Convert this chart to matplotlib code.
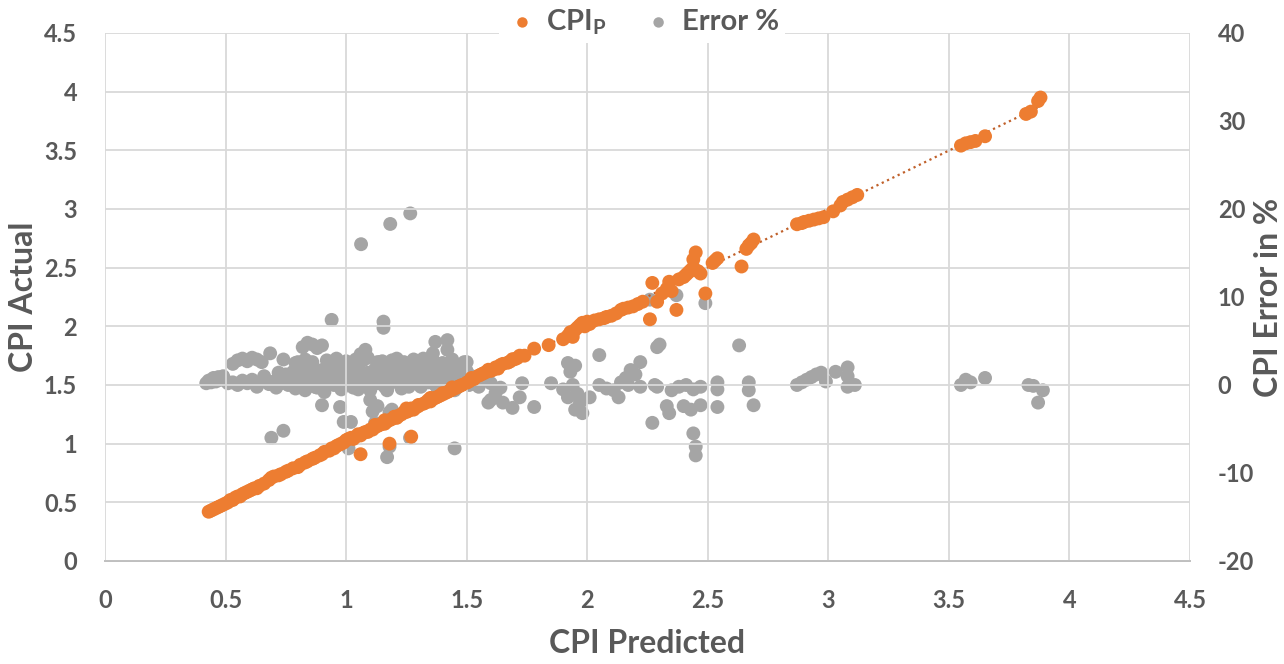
import matplotlib
matplotlib.use("Agg")
import matplotlib.pyplot as plt
import numpy as np

plt.rcParams['font.family'] = ['Lato', 'DejaVu Sans']
plt.rcParams['mathtext.fontset'] = 'custom'
plt.rcParams['mathtext.rm'] = 'Lato'
plt.rcParams['mathtext.bf'] = 'Lato:bold'

# CPI predicted vs actual (orange series)
cpi_pred = [
    0.43, 0.44, 0.45, 0.46, 0.47, 0.48, 0.49, 0.50, 0.51, 0.52, 0.53, 0.54, 0.55, 0.56,
    0.57, 0.58, 0.59, 0.60, 0.61, 0.62, 0.63, 0.64, 0.66, 0.68, 0.69, 0.70, 0.72, 0.73,
    0.75, 0.76, 0.78, 0.80, 0.81, 0.83, 0.84, 0.86, 0.87, 0.89, 0.90, 0.91, 0.93, 0.94,
    0.95, 0.96, 0.97, 0.98, 0.99, 1.00, 1.01, 1.02, 1.03, 1.04, 1.05, 1.06, 1.06, 1.07,
    1.08, 1.09, 1.10, 1.11, 1.12, 1.13, 1.14, 1.15, 1.16, 1.17, 1.18, 1.18, 1.19, 1.20,
    1.21, 1.22, 1.23, 1.24, 1.25, 1.26, 1.27, 1.27, 1.28, 1.29, 1.30, 1.32, 1.33, 1.34,
    1.35, 1.36, 1.37, 1.38, 1.39, 1.40, 1.41, 1.42, 1.43, 1.44, 1.45, 1.46, 1.47, 1.48,
    1.50, 1.51, 1.53, 1.55, 1.56, 1.57, 1.58, 1.60, 1.61, 1.62, 1.63, 1.64, 1.65, 1.67,
    1.68, 1.69, 1.70, 1.71, 1.72, 1.74, 1.78, 1.84, 1.90, 1.92, 1.93, 1.94, 1.95, 1.96,
    1.97, 1.98, 1.99, 2.00, 2.01, 2.03, 2.05, 2.07, 2.08, 2.10, 2.12, 2.14, 2.15, 2.17,
    2.19, 2.21, 2.23, 2.26, 2.27, 2.29, 2.31, 2.33, 2.34, 2.35, 2.37, 2.38, 2.40, 2.41,
    2.42, 2.43, 2.44, 2.44, 2.45, 2.46, 2.47, 2.49, 2.52, 2.53, 2.54, 2.64, 2.66, 2.67,
    2.68, 2.69, 2.87, 2.89, 2.90, 2.92, 2.94, 2.96, 2.98, 3.02, 3.05, 3.06, 3.08, 3.10,
    3.12, 3.55, 3.57, 3.59, 3.61, 3.65, 3.82, 3.84, 3.87, 3.88,
    1.12, 1.16, 1.21, 1.25, 1.30, 1.35, 1.40, 1.44, 1.52, 1.59,
]
cpi_actual = [
    0.42, 0.43, 0.44, 0.45, 0.46, 0.47, 0.48, 0.49, 0.50, 0.52, 0.52, 0.54, 0.55, 0.55,
    0.57, 0.58, 0.59, 0.60, 0.61, 0.62, 0.62, 0.64, 0.66, 0.69, 0.71, 0.72, 0.73, 0.74,
    0.76, 0.77, 0.79, 0.80, 0.82, 0.84, 0.85, 0.87, 0.88, 0.90, 0.91, 0.93, 0.94, 0.96,
    0.96, 0.98, 0.99, 1.00, 1.01, 1.03, 1.04, 1.05, 1.04, 1.06, 1.08, 0.91, 1.07, 1.09,
    1.10, 1.10, 1.12, 1.12, 1.14, 1.15, 1.16, 1.17, 1.17, 1.19, 1.20, 1.00, 1.21, 1.23,
    1.22, 1.24, 1.25, 1.27, 1.27, 1.28, 1.30, 1.06, 1.29, 1.31, 1.32, 1.34, 1.35, 1.37,
    1.36, 1.38, 1.39, 1.40, 1.41, 1.42, 1.43, 1.44, 1.45, 1.46, 1.47, 1.48, 1.49, 1.50,
    1.52, 1.53, 1.55, 1.58, 1.59, 1.60, 1.61, 1.62, 1.63, 1.65, 1.64, 1.67, 1.68, 1.69,
    1.70, 1.72, 1.72, 1.73, 1.75, 1.75, 1.81, 1.84, 1.89, 1.92, 1.95, 1.91, 1.97, 1.99,
    2.01, 2.03, 2.00, 2.04, 2.02, 2.05, 2.06, 2.07, 2.08, 2.09, 2.11, 2.14, 2.15, 2.16,
    2.17, 2.19, 2.21, 2.06, 2.37, 2.21, 2.28, 2.32, 2.38, 2.30, 2.14, 2.40, 2.42, 2.44,
    2.46, 2.48, 2.50, 2.57, 2.63, 2.47, 2.45, 2.28, 2.54, 2.56, 2.58, 2.51, 2.66, 2.69,
    2.71, 2.74, 2.87, 2.88, 2.89, 2.90, 2.91, 2.92, 2.93, 2.98, 3.03, 3.06, 3.08, 3.10,
    3.12, 3.54, 3.56, 3.57, 3.58, 3.62, 3.81, 3.83, 3.92, 3.95,
    1.16, 1.20, 1.23, 1.30, 1.33, 1.39, 1.43, 1.48, 1.56, 1.63,
]

# CPI error in % (grey series, right axis)
err_x = [
    0.42, 0.43, 0.44, 0.45, 0.46, 0.47, 0.48, 0.49, 0.50, 0.51,
    0.53, 0.55, 0.57, 0.59, 0.61, 0.63, 0.65,
    0.53, 0.55, 0.57, 0.59, 0.61, 0.63, 0.65, 0.66,
    0.685, 0.69, 0.74,
    0.68, 0.70, 0.71, 0.72, 0.73, 0.75, 0.76, 0.77, 0.78, 0.79, 0.80, 0.81, 0.82, 0.83,
    0.84, 0.85, 0.86, 0.87, 0.88, 0.89, 0.90, 0.91, 0.92, 0.93, 0.94, 0.95, 0.96, 0.97,
    0.98, 0.99, 1.00, 1.01, 1.02, 1.03, 1.04, 1.05, 1.06, 1.07, 1.08, 1.09, 1.10, 1.11,
    1.12, 1.13, 1.14, 1.15, 1.16, 1.17, 1.18, 1.19, 1.20, 1.21, 1.22, 1.23, 1.24, 1.25,
    1.26, 1.27, 1.28, 1.29, 1.30, 1.31, 1.32, 1.33, 1.34, 1.35, 1.36, 1.37, 1.38, 1.39,
    1.40, 1.41, 1.42, 1.43, 1.44, 1.45, 1.46, 1.47, 1.48, 1.50, 1.51, 1.53, 1.55,
    0.72, 0.78, 0.85, 0.88, 0.93, 0.97, 1.02, 1.05, 1.10, 1.14, 1.17, 1.22, 1.26, 1.30,
    1.33, 1.38, 1.42, 1.47, 1.52,
    0.82, 0.84, 0.86, 0.88, 0.90, 0.80, 0.83, 1.06, 1.08, 1.13, 1.17, 1.19,
    0.90, 0.975, 0.99, 1.02, 1.01, 1.10, 1.11, 1.12, 1.13, 1.18, 1.19, 1.17, 1.18, 1.265,
    1.45, 1.59,
    1.062, 1.183, 1.266, 0.94, 1.155, 1.155, 1.37, 1.42, 1.42, 1.36, 1.50,
    1.42, 1.45, 1.48, 1.52, 1.55, 1.60, 1.62, 1.64, 1.60, 1.65, 1.69, 1.73, 1.72, 1.78,
    1.85, 1.92, 1.93, 1.95, 1.96, 1.94, 1.97, 1.98, 1.95, 1.90, 1.92, 2.01, 2.05, 2.05,
    2.08, 2.11, 2.13, 2.14, 2.16, 2.17, 2.18, 2.20, 2.22, 2.22, 2.26, 2.27, 2.28, 2.29,
    2.30, 2.29, 2.33, 2.34, 2.35, 2.37, 2.38, 2.40, 2.41, 2.43, 2.44, 2.44, 2.45, 2.45,
    2.47, 2.47, 2.49, 2.54, 2.54, 2.54, 2.63, 2.67, 2.67, 2.69,
    2.87, 2.89, 2.91, 2.93, 2.95, 2.97, 2.99, 3.03, 3.08, 3.08, 3.08, 3.11,
    3.55, 3.57, 3.59, 3.65, 3.83, 3.85, 3.89, 3.87,
    0.74, 0.79, 0.92, 0.96, 1.00, 1.04, 1.09, 1.15, 1.21, 1.24, 1.28, 1.32, 1.36, 1.40,
    1.44, 1.49,
]
err_pct = [
    0.2, 0.5, 0.3, 0.8, 0.4, 0.9, 0.6, 1.0, 0.5, 0.2,
    2.4, 2.8, 3.0, 2.7, 3.1, 2.9, 2.6,
    0.3, 0.0, 0.5, 0.2, 0.6, -0.2, 0.4, 1.0,
    3.6, -6.0, -5.2,
    0.1, 0.4, -0.3, 0.8, 0.2, 1.2, 0.0, 0.6, 1.5, -0.4, 0.9, 2.0, 0.3, -0.6,
    1.4, 0.5, 2.6, -0.2, 1.0, 0.2, 1.7, -0.8, 0.6, 1.2, 2.2, 0.0, 1.5, 0.7,
    -0.5, 1.9, 0.4, 1.1, 2.4, -0.3, 0.8, 1.6, 0.1, 2.8, 0.9, 1.4, -0.6, 0.5,
    1.8, 0.2, 1.0, 2.1, -0.2, 0.7, 1.5, 0.3, 2.4, 0.9, 1.3, -0.4, 0.6, 1.8,
    0.2, 1.1, 2.0, 0.5, 1.4, -0.2, 0.8, 1.7, 0.3, 1.0, 2.2, 0.0, 1.3, 0.6,
    1.9, -0.5, 0.9, 0.3, 1.5, 0.7, -0.3, 1.2, 0.4, 1.6, 0.0, 0.8, -0.2,
    1.4, 0.2, 1.8, -0.3, 0.2, 2.0, 0.6, -0.5, 1.2, 2.6, -0.6, 2.5, -0.2, 0.6,
    2.4, -0.4, 1.6, 2.1, 1.0,
    4.3, 4.8, 4.6, 4.2, 4.5, 2.6, 2.9, 3.5, 4.0, 2.6, 2.4, 2.8,
    -2.3, -2.5, -4.2, -4.2, -7.2, -1.7, -3.0, -4.3, -2.4, -3.1, -2.8, -8.2, -7.0, -6.0,
    -7.2, -2.0,
    16.0, 18.3, 19.5, 7.4, 7.2, 6.5, 4.9, 5.1, 4.0, 3.6, 2.6,
    1.7, -0.6, 1.0, 0.3, 0.8, 0.2, -0.9, -0.3, -1.7, -2.0, -2.6, 0.2, -1.4, -2.5,
    0.2, 2.5, 1.5, 2.2, -1.0, 0.0, -2.0, -3.2, -2.8, -0.5, -1.4, -1.4, 3.4, 0.0,
    -0.4, -0.6, -1.4, 0.3, 0.8, 0.0, 1.7, 1.2, 2.6, -0.2, 9.7, -4.3, 0.0, 4.3,
    4.6, -0.2, -2.4, -3.2, -0.6, 10.2, -0.2, -2.4, 0.0, -2.8, -0.5, -5.5, -7.0, -8.0,
    -0.2, -2.3, 9.3, 0.3, -0.5, -2.5, 4.5, 0.3, -0.6, -2.3,
    0.0, 0.3, 0.6, 0.9, 1.2, 1.4, 0.4, 1.5, 2.0, 1.0, -0.2, 0.0,
    0.0, 0.6, 0.3, 0.8, 0.0, -0.1, -0.6, -2.0,
    2.9, 2.5, 2.8, 3.0, 2.7, 2.9, 3.1, 2.7, 3.0, 2.6, 2.9, 3.0, 2.8, 2.5,
    2.9, 2.6,
]

orange = '#ED7D31'
grey = '#A5A5A5'
text_col = '#595959'
grid_col = '#D9D9D9'

fig = plt.figure(figsize=(12.84, 6.64), dpi=100)
ax = fig.add_axes([105 / 1284, 1 - 561 / 664, 1085 / 1284, 528 / 664])
ax2 = ax.twinx()

ax.set_xlim(0, 4.5)
ax.set_ylim(0, 4.5)
ax2.set_ylim(-20, 40)
ax.set_xticks(np.arange(0, 4.51, 0.5))
ax.set_yticks(np.arange(0, 4.51, 0.5))
ax2.set_yticks(np.arange(-20, 41, 10))
fmt = lambda v: ('%g' % v)
ax.set_xticklabels([fmt(v) for v in ax.get_xticks()])
ax.set_yticklabels([fmt(v) for v in ax.get_yticks()])
ax2.set_yticklabels([fmt(v) for v in ax2.get_yticks()])

ax.grid(True, color=grid_col, linewidth=1.3)
ax.set_axisbelow(True)
for a in (ax, ax2):
    for s in ('top', 'left', 'right'):
        a.spines[s].set_visible(False)
    a.spines['bottom'].set_color('#BFBFBF')
    a.spines['bottom'].set_linewidth(1.3)
    a.tick_params(length=0, labelsize=17, labelcolor=text_col)
for lab in ax.get_xticklabels() + ax.get_yticklabels() + ax2.get_yticklabels():
    lab.set_fontweight('bold')
ax.tick_params(axis='x', pad=20)
ax.tick_params(axis='y', pad=20)
ax2.tick_params(axis='y', pad=20)

ax2.scatter(err_x, err_pct, s=100, color=grey, edgecolors='none', zorder=2, label='Error %')
ax.set_zorder(ax2.get_zorder() + 1)
ax.patch.set_visible(False)
ax2.grid(False)

ax.scatter(cpi_pred, cpi_actual, s=100, color=orange, edgecolors='none', zorder=3,
           label=r'CPI$_{\mathbf{P}}$')
k, b = np.polyfit(cpi_pred, cpi_actual, 1)
xs = np.array([min(cpi_pred), max(cpi_pred)])
ax.plot(xs, k * xs + b, linestyle=':', color='#C0602A', linewidth=1.6, zorder=2)

ax.set_xlabel('CPI Predicted', fontsize=23, fontweight='bold', color=text_col)
ax.set_ylabel('CPI Actual', fontsize=23, fontweight='bold', color=text_col)
ax2.set_ylabel('CPI Error in %', fontsize=23, fontweight='bold', color=text_col)
ax.xaxis.set_label_coords(0.5, -(629 - 561) / 528)
ax.yaxis.set_label_coords(-(105 - 38) / 1085, 0.5)
ax2.yaxis.set_label_coords(1 + (1254 - 1190) / 1085, 0.5)

h1, l1 = ax.get_legend_handles_labels()
h2, l2 = ax2.get_legend_handles_labels()
leg = fig.legend(h1[:1] + h2, l1[:1] + l2, loc='center', bbox_to_anchor=(0.5, 1 - 22 / 664),
                 ncol=2, frameon=True, fontsize=21, handletextpad=0.2, columnspacing=1.2,
                 handlelength=1.2, borderpad=0.2, markerscale=0.75)
leg.get_frame().set_facecolor('white')
leg.get_frame().set_edgecolor('none')
leg.get_frame().set_alpha(1)
for t in leg.get_texts():
    t.set_fontweight('bold')
    t.set_color(text_col)

fig.savefig('out.png', dpi=100)
